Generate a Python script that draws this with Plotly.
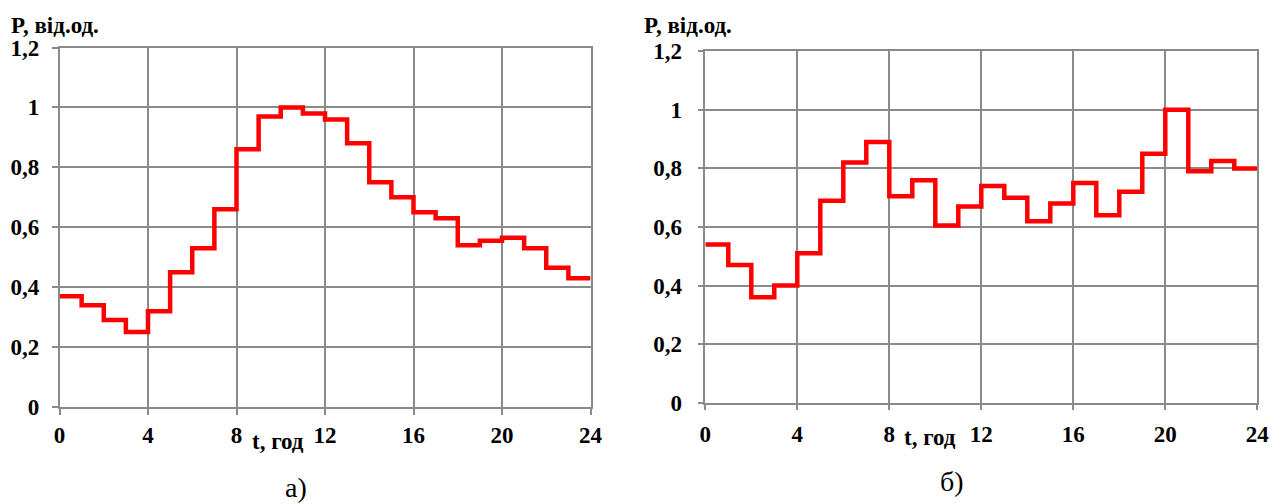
import plotly.graph_objects as go

# ---- data ----
hours = list(range(25))  # step edges 0..24 h
load_a = [0.37, 0.34, 0.29, 0.25, 0.32, 0.45, 0.53, 0.66, 0.86, 0.97, 1.00, 0.98,
          0.96, 0.88, 0.75, 0.70, 0.65, 0.63, 0.54, 0.555, 0.565, 0.53, 0.465, 0.43]
load_b = [0.54, 0.47, 0.36, 0.40, 0.51, 0.69, 0.82, 0.89, 0.705, 0.76, 0.605, 0.67,
          0.74, 0.70, 0.62, 0.68, 0.75, 0.64, 0.72, 0.85, 1.00, 0.79, 0.825, 0.80]
x_ticks = [0, 4, 8, 12, 16, 20, 24]
x_tick_text = ["0", "4", "8", "12", "16", "20", "24"]
y_ticks = [0, 0.2, 0.4, 0.6, 0.8, 1.0, 1.2]
y_tick_text = ["0", "0,2", "0,4", "0,6", "0,8", "1", "1,2"]

W, H = 1273, 504
FONT = "'Liberation Serif', 'Times New Roman', serif"
GRID = "#8a8a8a"
RED = "#ff0000"

def px(x):
    return x / W

def py(y):
    return 1 - y / H

fig = go.Figure()
fig.add_trace(go.Scatter(x=hours, y=load_a + [load_a[-1]], mode="lines",
                         line=dict(shape="hv", color=RED, width=4.5),
                         xaxis="x", yaxis="y", showlegend=False, cliponaxis=False))
fig.add_trace(go.Scatter(x=hours, y=load_b + [load_b[-1]], mode="lines",
                         line=dict(shape="hv", color=RED, width=4.5),
                         xaxis="x2", yaxis="y2", showlegend=False, cliponaxis=False))

def xaxis(domain, anchor, standoff):
    return dict(domain=domain, anchor=anchor, range=[0, 24], tickvals=x_ticks,
                ticktext=x_tick_text, showgrid=True, gridcolor=GRID, gridwidth=1.5,
                showline=True, linecolor=GRID, linewidth=1.5, mirror=True,
                ticks="outside", ticklen=6, tickcolor=GRID, tickwidth=1.5,
                zeroline=False, ticklabelstandoff=standoff, automargin=False,
                tickfont=dict(family=FONT, size=23, color="black", weight="bold"))

def yaxis(domain, anchor, standoff):
    return dict(domain=domain, anchor=anchor, range=[0, 1.2], tickvals=y_ticks,
                ticktext=y_tick_text, showgrid=True, gridcolor=GRID, gridwidth=1.5,
                showline=True, linecolor=GRID, linewidth=1.5, mirror=True,
                ticks="outside", ticklen=6, tickcolor=GRID, tickwidth=1.5,
                zeroline=False, ticklabelstandoff=standoff, automargin=False,
                tickfont=dict(family=FONT, size=23, color="black", weight="bold"))

fig.update_layout(
    width=W, height=H, margin=dict(l=0, r=0, t=0, b=0, autoexpand=False),
    paper_bgcolor="white", plot_bgcolor="white",
    xaxis=xaxis([px(59.5), px(590.5)], "y", 1),
    yaxis=yaxis([py(407), py(47.5)], "x", 8),
    xaxis2=xaxis([px(705.3), px(1257.3)], "y2", 4),
    yaxis2=yaxis([py(402.7), py(51.3)], "x2", 11),
)

ann_font = dict(family=FONT, size=23, color="black", weight="bold")
annotations = [
    dict(text="P, від.од.", x=px(9), y=py(25), xanchor="left", yanchor="middle", font=ann_font),
    dict(text="P, від.од.", x=px(642), y=py(25), xanchor="left", yanchor="middle", font=ann_font),
    dict(text="t, год", x=px(250), y=py(441), xanchor="left", yanchor="middle", font=ann_font),
    dict(text="t, год", x=px(902), y=py(437), xanchor="left", yanchor="middle", font=ann_font),
    dict(text="а)", x=px(296), y=py(487), xanchor="center", yanchor="middle",
         font=dict(family=FONT, size=28, color="black")),
    dict(text="б)", x=px(952), y=py(481), xanchor="center", yanchor="middle",
         font=dict(family=FONT, size=28, color="black")),
]
for a in annotations:
    a.update(xref="paper", yref="paper", showarrow=False)
fig.update_layout(annotations=annotations)

fig.write_html("out.html")
